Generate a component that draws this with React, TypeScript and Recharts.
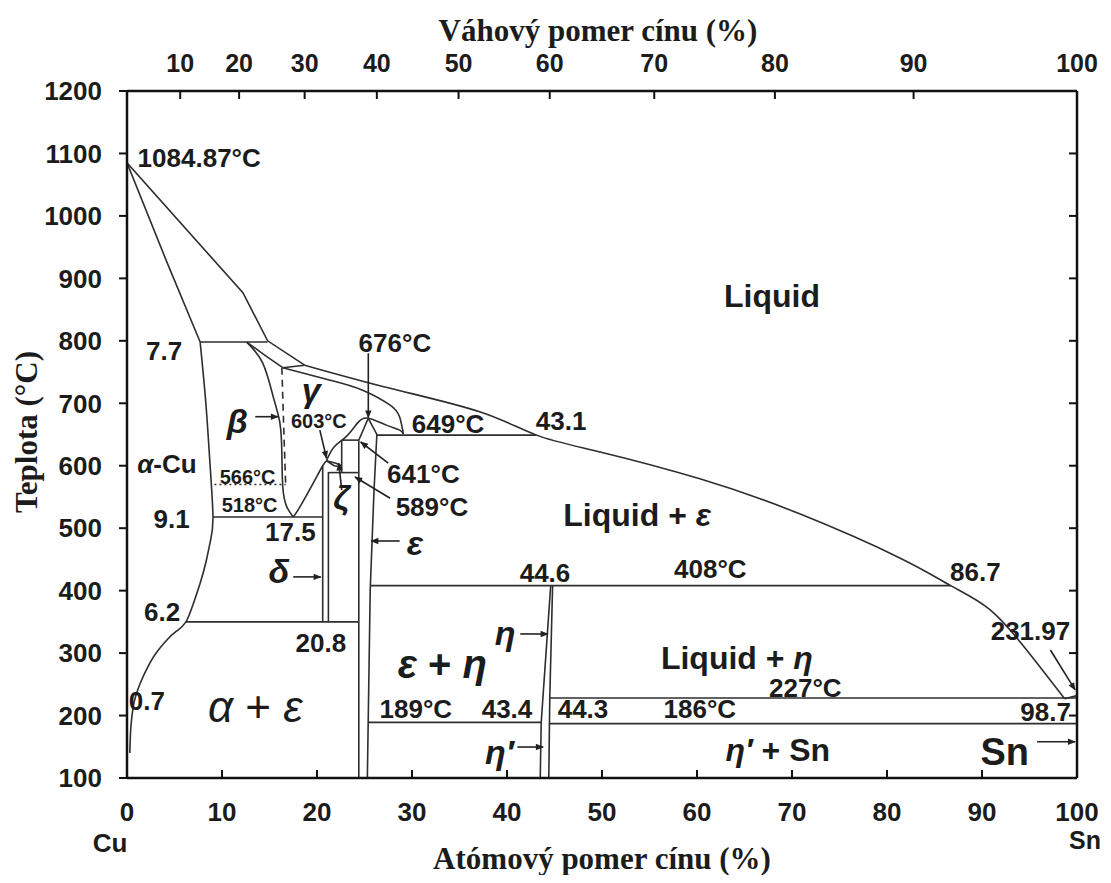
import React from 'react';
import { ComposedChart, Line, XAxis, YAxis, ReferenceDot } from 'recharts';

// axes
const tempTicks = [100, 200, 300, 400, 500, 600, 700, 800, 900, 1000, 1100, 1200];
const atTicks = [0, 10, 20, 30, 40, 50, 60, 70, 80, 90, 100];
const wtTickPos = [5.6, 11.8, 18.7, 26.3, 34.9, 44.5, 55.5, 68.2, 82.8, 100];
const wtTickLabels = ['10', '20', '30', '40', '50', '60', '70', '80', '90', '100'];

// phase boundaries, [at.% Sn, °C]
const liquidusCu = [[0, 1084.87], [12.2, 877], [14.8, 800], [18.7, 761]];
const liquidusMain = [[18.7, 761], [27.7, 724], [37.2, 686], [43.1, 649], [49.8, 622], [60.3, 579], [70.8, 523], [81.4, 452], [86.7, 408], [90.8, 370], [94.7, 305], [98.7, 227]];
const snMelt = [[98.7, 227], [100, 231.97]];
const alphaSolidus = [[0, 1084.87], [4.2, 926], [7.7, 798]];
const alphaSolvus = [[7.7, 798], [8.3, 700], [8.75, 600], [9.05, 518], [8.8, 481], [8.3, 445], [7.7, 412], [7.0, 380], [6.2, 350], [5.2, 335], [4.2, 321], [3.2, 303], [2.4, 284], [1.4, 252], [0.9, 230], [0.65, 214], [0.4, 180], [0.3, 140]];
const line798 = [[7.7, 798], [14.8, 798]];
const betaLeft = [[12.6, 798], [14.3, 764], [15.4, 710], [16.1, 668], [16.3, 620], [16.4, 566], [16.8, 535], [17.5, 518]];
const betaSolidus = [[12.6, 798], [14.6, 776], [16.4, 757]];
const line755 = [[16.4, 757], [18.7, 761]];
const gammaArc = [[16.4, 757], [21.4, 737], [24.8, 721], [27.7, 697], [28.7, 678], [29.1, 651]];
const betaGamma = [[16.3, 757], [16.5, 660], [16.7, 571]];
const line566 = [[9.2, 570], [16.7, 570]];
const line518 = [[9.05, 518], [20.6, 518]];
const gammaLow = [[17.5, 518], [18.2, 534], [19.6, 572], [20.6, 600], [21.0, 608]];
const deltaLeft = [[20.6, 350], [20.6, 600]];
const deltaRight = [[21.2, 350], [21.2, 590]];
const line350 = [[6.2, 350], [24.4, 350]];
const line589 = [[21.2, 589], [24.4, 589]];
const zetaLeft = [[22.6, 589], [22.6, 641]];
const line641 = [[22.6, 641], [24.4, 641]];
const epsLeft = [[24.4, 100], [24.4, 641], [25.4, 676]];
const epsRight = [[25.4, 676], [26.3, 650], [26.0, 560], [25.6, 400], [25.3, 100]];
const dome = [[21.0, 608], [21.8, 630], [23.1, 647], [24.3, 669], [25.4, 676], [27.3, 665], [28.7, 657], [29.1, 651]];
const lensA = [[21.0, 608], [21.8, 600], [22.6, 598]];
const lensB = [[21.0, 608], [22.0, 604], [22.6, 600]];
const line649 = [[26.3, 649], [43.1, 649]];
const line408 = [[25.6, 408], [86.7, 408]];
const etaLeft = [[44.6, 408], [43.6, 189], [43.5, 100]];
const etaRight = [[44.8, 408], [44.5, 227], [44.4, 100]];
const line189 = [[25.4, 189], [43.6, 189]];
const line186 = [[44.4, 187], [100, 187]];
const line227 = [[44.5, 228], [100, 228]];

const solid = [snMelt, alphaSolidus, line798, betaSolidus, line755, line518, deltaLeft, deltaRight,
  line350, line589, zetaLeft, line641, epsLeft, epsRight, lensA, lensB, line649, line408, etaLeft, etaRight, line189, line186, line227, liquidusCu];
const curved = [liquidusMain, alphaSolvus, betaLeft, gammaArc, gammaLow, dome];

// annotations: text, at.%, °C, kind
const notes: [string, number, number, string][] = [
  ['1084.87°C', 7.6, 1092.7, 'm'],
  ['Liquid', 67.9, 871.8, 'L'],
  ['7.7', 3.9, 783.7, 'm'],
  ['676°C', 28.2, 796.5, 'm'],
  ['γ', 19.4, 721, 'g'],
  ['β', 11.6, 671.6, 'g'],
  ['603°C', 20.2, 671.6, 's'],
  ['649°C', 33.8, 667, 'm'],
  ['43.1', 45.7, 671.6, 'm'],
  ['α-Cu', 4.2, 602.7, 'm'],
  ['641°C', 31.2, 586.7, 'm'],
  ['589°C', 32.1, 534, 'm'],
  ['566°C', 12.7, 582, 's'],
  ['518°C', 12.9, 537, 's'],
  ['9.1', 4.7, 515, 'm'],
  ['ζ', 22.6, 550, 'g'],
  ['17.5', 17.2, 494, 'm'],
  ['ε', 30.3, 476, 'g'],
  ['Liquid + ε', 53.7, 521, 'L'],
  ['δ', 16, 431, 'g'],
  ['44.6', 44, 428, 'm'],
  ['408°C', 61.4, 434.6, 'm'],
  ['86.7', 89.3, 430, 'm'],
  ['6.2', 3.7, 366, 'm'],
  ['20.8', 20.4, 316, 'm'],
  ['η', 39.8, 332, 'g'],
  ['ε + η', 33.2, 282.5, 'X'],
  ['Liquid + η', 64.2, 292, 'L'],
  ['231.97', 95.1, 335, 'm'],
  ['227°C', 71.4, 244, 'm'],
  ['0.7', 2.1, 223, 'm'],
  ['α + ε', 13.5, 215, 'A'],
  ['189°C', 30.4, 210.5, 'm'],
  ['43.4', 40, 210.5, 'm'],
  ['44.3', 48, 210.5, 'm'],
  ['186°C', 60.3, 210.5, 'm'],
  ['98.7', 96.7, 206, 'm'],
  ['η′', 39.2, 141.7, 'g'],
  ['η′ + Sn', 68.5, 145, 'L'],
  ['Sn', 92.4, 142, 'S'],
];

// arrows: from -> to
const arrows = [
  [[25.4, 780], [25.4, 677]],
  [[13.5, 678.5], [15.9, 678.5]],
  [[20.3, 657], [21.0, 612]],
  [[27.5, 604], [24.6, 638]],
  [[27.7, 548], [24.0, 582]],
  [[22.6, 561], [22.3, 604]],
  [[28.7, 479.5], [25.7, 479.5]],
  [[17.5, 422], [20.4, 422]],
  [[41.4, 330.6], [44.3, 330.6]],
  [[97.2, 305], [99.8, 241]],
  [[41.1, 149.6], [43.8, 149.6]],
  [[95.8, 158], [99.8, 158]],
];

const SANS = "'Liberation Sans', Arial, Helvetica, sans-serif";
const SERIF = "'Liberation Serif', 'Times New Roman', serif";
const INK = '#1c1c1c';
const LINE = '#2e2e2e';

const kinds: Record<string, { size: number; weight: number }> = {
  m: { size: 26, weight: 700 },
  s: { size: 20, weight: 700 },
  g: { size: 34, weight: 700 },
  L: { size: 32, weight: 700 },
  X: { size: 40, weight: 700 },
  A: { size: 44, weight: 400 },
  S: { size: 38, weight: 700 },
};

const pts = (arr: number[][]) => arr.map(([x, t]) => ({ x, t }));

const rich = (s: string) =>
  s.split(/([α-ωΑ-Ω]′?)/).filter(Boolean).map((part, i) =>
    /[α-ωΑ-Ω]/.test(part) ? <tspan key={i} fontStyle="italic">{part}</tspan> : <tspan key={i}>{part}</tspan>
  );

const axisStyle = { stroke: '#111', strokeWidth: 2.5 };
const tickLineStyle = { stroke: '#111', strokeWidth: 2 };
const tickFont = { fontSize: 26, fontWeight: 700, fill: INK, fontFamily: SANS };
const titleStyle: React.CSSProperties = {
  position: 'absolute', whiteSpace: 'nowrap', lineHeight: 1,
  fontFamily: SERIF, fontWeight: 700, fontSize: 31, color: INK,
};

// inward tick marks with labels outside
const BottomTick = (p: any) => (
  <g>
    <line x1={p.x} x2={p.x} y1={p.y} y2={p.y - 8} {...tickLineStyle} />
    <text x={p.x} y={p.y + 43} textAnchor="middle" {...tickFont}>{p.payload.value}</text>
  </g>
);
const TopTick = (p: any) => (
  <g>
    <line x1={p.x} x2={p.x} y1={p.y} y2={p.y + 8} {...tickLineStyle} />
    <text x={p.x} y={p.y - 19} textAnchor="middle" {...tickFont} fontSize={25}>{wtTickLabels[p.index]}</text>
  </g>
);
const RightTick = (p: any) => <line x1={p.x} x2={p.x - 8} y1={p.y} y2={p.y} {...tickLineStyle} />;

export default function App() {
  return (
    <div style={{ position: 'relative', width: 1095, height: 867 }}>
      <svg width={0} height={0} style={{ position: 'absolute' }}>
        <defs>
          <marker id="ah" viewBox="0 0 10 10" refX="9" refY="5" markerWidth="9" markerHeight="8"
            orient="auto" markerUnits="userSpaceOnUse">
            <path d="M0,1 L10,5 L0,9 z" fill="#222" />
          </marker>
        </defs>
      </svg>
      <ComposedChart width={1095} height={866} margin={{ top: 43, right: 16, bottom: 36, left: 39 }}>
        <XAxis xAxisId="at" type="number" dataKey="x" domain={[0, 100]} ticks={atTicks} interval={0}
          orientation="bottom" height={60} tickSize={0} tickMargin={0} allowDataOverflow
          axisLine={axisStyle} tickLine={false} tick={BottomTick} />
        <XAxis xAxisId="wt" type="number" dataKey="x" domain={[0, 100]} ticks={wtTickPos} interval={0}
          orientation="top" height={40} tickSize={0} tickMargin={0} allowDataOverflow
          axisLine={axisStyle} tickLine={false} tick={TopTick} />
        <YAxis yAxisId="t" type="number" domain={[100, 1200]} ticks={tempTicks} interval={0}
          width={80} tickSize={8} tickMargin={17} allowDataOverflow
          axisLine={axisStyle} tickLine={tickLineStyle} tick={tickFont} />
        <YAxis yAxisId="r" orientation="right" type="number" domain={[100, 1200]} ticks={tempTicks} interval={0}
          width={10} tickSize={0} tickMargin={0} allowDataOverflow
          axisLine={axisStyle} tickLine={false} tick={RightTick} />

        {solid.map((arr, i) => (
          <Line key={'s' + i} data={pts(arr)} dataKey="t" xAxisId="at" yAxisId="t" type="linear"
            dot={false} activeDot={false} stroke={LINE} strokeWidth={1.6} isAnimationActive={false} />
        ))}
        {curved.map((arr, i) => (
          <Line key={'c' + i} data={pts(arr)} dataKey="t" xAxisId="at" yAxisId="t" type="natural"
            dot={false} activeDot={false} stroke={LINE} strokeWidth={1.6} isAnimationActive={false} />
        ))}
        <Line data={pts(betaGamma)} dataKey="t" xAxisId="at" yAxisId="t" type="linear" dot={false} activeDot={false}
          stroke={LINE} strokeWidth={1.6} strokeDasharray="7 5" isAnimationActive={false} />
        <Line data={pts(line566)} dataKey="t" xAxisId="at" yAxisId="t" type="linear" dot={false} activeDot={false}
          stroke={LINE} strokeWidth={1.6} strokeDasharray="2 3" isAnimationActive={false} />
        {arrows.map((arr, i) => (
          <Line key={'a' + i} data={pts(arr)} dataKey="t" xAxisId="at" yAxisId="t" type="linear"
            dot={false} activeDot={false} stroke="#222" strokeWidth={1.6} markerEnd="url(#ah)"
            isAnimationActive={false} />
        ))}

        {notes.map(([label, x, t, k], i) => (
          <ReferenceDot key={'n' + i} x={x} y={t} r={0} xAxisId="at" yAxisId="t" ifOverflow="visible"
            shape={(p: any) => (
              <text x={p.cx} y={p.cy} textAnchor="middle" dominantBaseline="central"
                fontSize={kinds[k].size} fontWeight={kinds[k].weight} fontFamily={SANS} fill={INK}>
                {rich(label)}
              </text>
            )} />
        ))}
      </ComposedChart>

      <div style={{ ...titleStyle, left: 590, top: 22, transform: 'translate(-50%,-50%)' }}>Váhový pomer cínu (%)</div>
      <div style={{ ...titleStyle, left: 594, top: 850, transform: 'translate(-50%,-50%)' }}>Atómový pomer cínu (%)</div>
      <div style={{ ...titleStyle, left: 18, top: 424, transform: 'translate(-50%,-50%) rotate(-90deg)' }}>Teplota (°C)</div>
      <div style={{ position: 'absolute', left: 102, top: 835, transform: 'translate(-50%,-50%)',
        fontFamily: SANS, fontWeight: 700, fontSize: 26, color: INK }}>Cu</div>
      <div style={{ position: 'absolute', left: 1077, top: 832, transform: 'translate(-50%,-50%)',
        fontFamily: SANS, fontWeight: 700, fontSize: 25, color: INK }}>Sn</div>
    </div>
  );
}
